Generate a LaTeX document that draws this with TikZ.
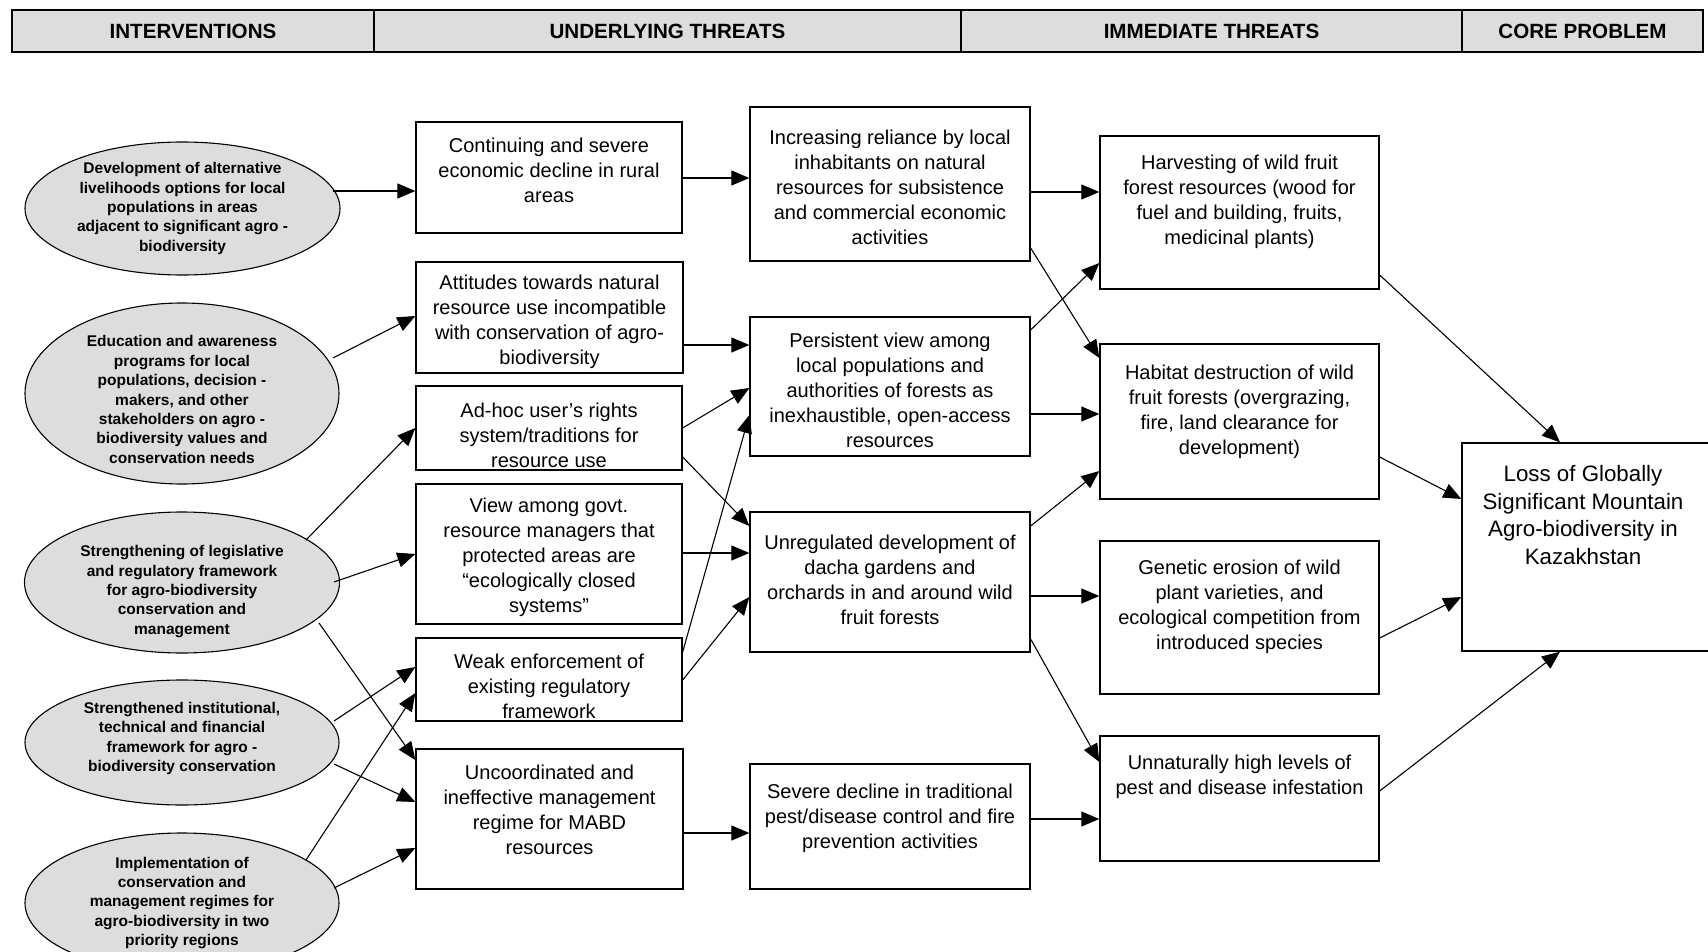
\documentclass[tikz,border=0pt]{standalone}
\usepackage{fontspec}
\setmainfont{Liberation Sans}
\usetikzlibrary{shapes.geometric,arrows.meta}
\definecolor{hdrgray}{HTML}{DDDDDD}
\definecolor{ellgray}{HTML}{DDDDDD}
\begin{document}
\begin{tikzpicture}[x=1pt,y=-1pt,
  box/.style={draw=black,line width=1.3pt,fill=white,inner sep=0pt},
  ell/.style={ellipse,draw=black,line width=1.1pt,fill=ellgray,inner sep=0pt},
  btxt/.style={font=\fontsize{20}{25}\selectfont,align=center,inner sep=0pt},
  etxt/.style={font=\fontsize{15.5}{19.4}\selectfont\bfseries,align=center,inner sep=0pt},
  ktxt/.style={font=\fontsize{22.3}{27.7}\selectfont,align=center,inner sep=0pt},
  htxt/.style={font=\fontsize{20.6}{24}\selectfont\bfseries},
  hcell/.style={draw=black,line width=1.3pt,fill=hdrgray,inner sep=0pt},
  arr/.style={line width=1.1pt,-{Triangle[length=18pt,width=15pt]}},
]
\useasboundingbox (0,0) rectangle (1708,952);
\clip (0,0) rectangle (1708,952);
\fill[white] (0,0) rectangle (1708,952);

% header
\node[hcell,htxt,minimum width=362pt,minimum height=42pt] (H1) at (193,31) {INTERVENTIONS};
\node[hcell,htxt,minimum width=587pt,minimum height=42pt] (H2) at (667.5,31) {UNDERLYING THREATS};
\node[hcell,htxt,minimum width=501pt,minimum height=42pt] (H3) at (1211.5,31) {IMMEDIATE THREATS};
\node[hcell,htxt,minimum width=241pt,minimum height=42pt] (H4) at (1582.5,31) {CORE PROBLEM};

% interventions (ellipses)
\node[ell,minimum width=315pt,minimum height=133pt,label={[etxt]center:{Development of alternative\\livelihoods options for local\\populations in areas\\adjacent to significant agro -\\biodiversity}}] (E1) at (182.5,208.5) {};
\node[ell,minimum width=314pt,minimum height=181pt,label={[etxt,yshift=-6pt]center:{Education and awareness\\programs for local\\populations, decision -\\makers, and other\\stakeholders on agro -\\biodiversity values and\\conservation needs}}] (E2) at (182,393.5) {};
\node[ell,minimum width=315pt,minimum height=141pt,label={[etxt,yshift=-9pt]center:{Strengthening of legislative\\and regulatory framework\\for agro-biodiversity\\conservation and\\management}}] (E3) at (182,582.5) {};
\node[ell,minimum width=314pt,minimum height=125pt,label={[etxt,yshift=4pt]center:{Strengthened institutional,\\technical and financial\\framework for agro -\\biodiversity conservation}}] (E4) at (182,742.5) {};
\node[ell,minimum width=314pt,minimum height=140pt,label={[etxt]center:{Implementation of\\conservation and\\management regimes for\\agro-biodiversity in two\\priority regions}}] (E5) at (182,903) {};

% underlying threats, column 1
\node[box,minimum width=266pt,minimum height=111pt,label={[btxt,yshift=7.5pt]center:{Continuing and severe\\economic decline in rural\\areas}}] (B1) at (549,177.5) {};
\node[box,minimum width=267pt,minimum height=111pt,label={[btxt,yshift=-4.5pt]center:{Attitudes towards natural\\resource use incompatible\\with conservation of agro-\\biodiversity}}] (B2) at (549.5,317.5) {};
\node[box,minimum width=266pt,minimum height=84pt,label={[btxt,yshift=-7pt]center:{Ad-hoc user’s rights\\system/traditions for\\resource use}}] (B3) at (549,428) {};
\node[box,minimum width=266pt,minimum height=140pt,label={[btxt,yshift=-3pt]center:{View among govt.\\resource managers that\\protected areas are\\“ecologically closed\\systems”}}] (B4) at (549,554) {};
\node[box,minimum width=266pt,minimum height=83pt,label={[btxt,yshift=-6.5pt]center:{Weak enforcement of\\existing regulatory\\framework}}] (B5) at (549,679.5) {};
\node[box,minimum width=267pt,minimum height=140pt,label={[btxt,yshift=9pt]center:{Uncoordinated and\\ineffective management\\regime for MABD\\resources}}] (B6) at (549.5,819) {};

% underlying threats, column 2
\node[box,minimum width=280pt,minimum height=154pt,label={[btxt,yshift=-3pt]center:{Increasing reliance by local\\inhabitants on natural\\resources for subsistence\\and commercial economic\\activities}}] (C1) at (890,184) {};
\node[box,minimum width=280pt,minimum height=139pt,label={[btxt,yshift=-3.5pt]center:{Persistent view among\\local populations and\\authorities of forests as\\inexhaustible, open-access\\resources}}] (C2) at (890,386.5) {};
\node[box,minimum width=280pt,minimum height=140pt,label={[btxt,yshift=2pt]center:{Unregulated development of\\dacha gardens and\\orchards in and around wild\\fruit forests}}] (C3) at (890,582) {};
\node[box,minimum width=280pt,minimum height=125pt,label={[btxt,yshift=8.5pt]center:{Severe decline in traditional\\pest/disease control and fire\\prevention activities}}] (C4) at (890,826.5) {};

% immediate threats
\node[box,minimum width=279pt,minimum height=153pt,label={[btxt,yshift=10.5pt]center:{Harvesting of wild fruit\\forest resources (wood for\\fuel and building, fruits,\\medicinal plants)}}] (D1) at (1239.5,212.5) {};
\node[box,minimum width=279pt,minimum height=155pt,label={[btxt,yshift=9.5pt]center:{Habitat destruction of wild\\fruit forests (overgrazing,\\fire, land clearance for\\development)}}] (D2) at (1239.5,421.5) {};
\node[box,minimum width=279pt,minimum height=153pt,label={[btxt,yshift=10.5pt]center:{Genetic erosion of wild\\plant varieties, and\\ecological competition from\\introduced species}}] (D3) at (1239.5,617.5) {};
\node[box,minimum width=279pt,minimum height=125pt,label={[btxt,yshift=21.5pt]center:{Unnaturally high levels of\\pest and disease infestation}}] (D4) at (1239.5,798.5) {};

% core problem
\node[box,minimum width=247pt,minimum height=208pt,label={[ktxt,yshift=32pt,xshift=-2.5pt]center:{Loss of Globally\\Significant Mountain\\Agro-biodiversity in\\Kazakhstan}}] (K) at (1585.5,547) {};

% interventions -> underlying threats
\draw[arr] ([shift={(150.5,-17.5)}]E1.center) -- ([shift={(0,13.5)}]B1.west);
\draw[arr] ([shift={(151,-35.5)}]E2.center) -- ([shift={(0,-1.5)}]B2.west);
\draw[arr] ([shift={(124,-42.5)}]E3.center) -- (B3.west);
\draw[arr] ([shift={(152,-0.5)}]E3.center) -- (B4.west);
\draw[arr] ([shift={(137,40.5)}]E3.center) -- ([shift={(0,-59)}]B6.west);
\draw[arr] ([shift={(152,-21.5)}]E4.center) -- ([shift={(0,-12.5)}]B5.west);
\draw[arr] ([shift={(152,21.5)}]E4.center) -- ([shift={(0,-17)}]B6.west);
\draw[arr] ([shift={(124,-43)}]E5.center) -- ([shift={(0,13.5)}]B5.west);
\draw[arr] ([shift={(152,-15)}]E5.center) -- ([shift={(0,29)}]B6.west);

% column 1 -> column 2
\draw[arr] ([shift={(0,0.5)}]B1.east) -- ([shift={(0,-6)}]C1.west);
\draw[arr] ([shift={(0,27.5)}]B2.east) -- ([shift={(0,-41.5)}]C2.west);
\draw[arr] (B3.east) -- ([shift={(0,1.5)}]C2.west);
\draw[arr] ([shift={(0,29)}]B3.east) -- ([shift={(0,-56)}]C3.west);
\draw[arr] ([shift={(0,-1)}]B4.east) -- ([shift={(0,-29)}]C3.west);
\draw[arr] ([shift={(0,-27.5)}]B5.east) -- ([shift={(0,28.5)}]C2.west);
\draw[arr] ([shift={(0,0.5)}]B5.east) -- ([shift={(0,15)}]C3.west);
\draw[arr] ([shift={(0,14)}]B6.east) -- ([shift={(0,6.5)}]C4.west);

% column 2 -> immediate threats
\draw[arr] ([shift={(0,8)}]C1.east) -- ([shift={(0,-20.5)}]D1.west);
\draw[arr] ([shift={(0,64)}]C1.east) -- ([shift={(0,-63.5)}]D2.west);
\draw[arr] ([shift={(0,-56.5)}]C2.east) -- ([shift={(0,50.5)}]D1.west);
\draw[arr] ([shift={(0,27.5)}]C2.east) -- ([shift={(0,-7.5)}]D2.west);
\draw[arr] ([shift={(0,-56)}]C3.east) -- ([shift={(0,49.5)}]D2.west);
\draw[arr] ([shift={(0,14)}]C3.east) -- ([shift={(0,-21.5)}]D3.west);
\draw[arr] ([shift={(0,57)}]C3.east) -- ([shift={(0,-36.5)}]D4.west);
\draw[arr] ([shift={(0,-7.5)}]C4.east) -- ([shift={(0,20.5)}]D4.west);

% immediate threats -> core problem
\draw[arr] ([shift={(0,62.5)}]D1.east) -- ([shift={(-25.5,0)}]K.north);
\draw[arr] ([shift={(0,35.5)}]D2.east) -- ([shift={(0,-48)}]K.west);
\draw[arr] ([shift={(0,20.5)}]D3.east) -- ([shift={(0,50)}]K.west);
\draw[arr] ([shift={(0,-7.5)}]D4.east) -- ([shift={(-25.5,0)}]K.south);
\end{tikzpicture}
\end{document}
